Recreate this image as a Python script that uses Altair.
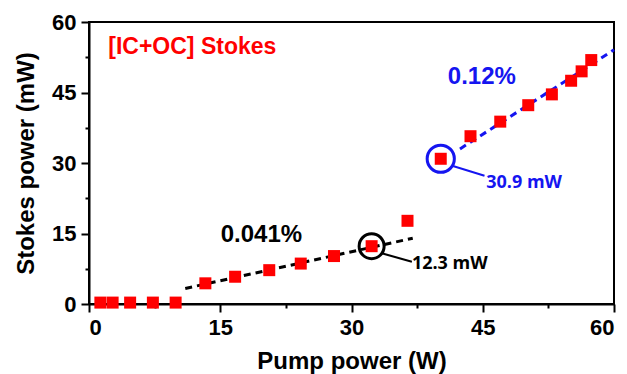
import altair as alt
import pandas as pd

# Data
pump_w = [1.3, 2.7, 4.7, 7.3, 9.9, 13.3, 16.7, 20.6, 24.2, 28.0, 32.3, 36.4,
          40.2, 43.6, 47.0, 50.2, 52.9, 55.1, 56.3, 57.4]
stokes_mw = [0.3, 0.3, 0.3, 0.3, 0.3, 4.4, 5.8, 7.2, 8.6, 10.2, 12.3, 17.7,
             30.9, 35.7, 38.8, 42.3, 44.6, 47.5, 49.5, 51.9]

fit_low_x = [11.0, 37.0]
fit_low_y = [3.3, 14.0]
fit_high_x = [42.4, 60.0]
fit_high_y = [33.0, 54.1]

tick_values = [0, 7.5, 15, 22.5, 30, 37.5, 45, 52.5, 60]

FONT = "Liberation Sans"
BLUE = "#1515f0"
RED = "#ff0000"

xs = alt.Scale(domain=[0, 60], nice=False, zero=False)
ys = alt.Scale(domain=[0, 60], nice=False, zero=False)

pts = pd.DataFrame({"x": pump_w, "y": stokes_mw})

major_test = "datum.value % 15 === 0"
base_axis = dict(values=tick_values, domainWidth=2, domainColor="black", tickWidth=2,
                 tickColor="black",
                 tickSize={"condition": {"test": major_test, "value": 8}, "value": 4},
                 labelExpr="datum.value % 15 === 0 ? datum.label : ''",
                 labelFont=FONT, labelFontSize=22, labelFontWeight="bold",
                 labelColor="black", titleFont=FONT, titleFontSize=24,
                 titleFontWeight="bold", titleColor="black", grid=False)

X_AXIS = alt.Axis(title="Pump power (W)", labelPadding=5, titlePadding=11, **base_axis)
Y_AXIS = alt.Axis(title="Stokes power (mW)", labelPadding=5, titlePadding=13, **base_axis)


def X():
    return alt.X("x:Q", scale=xs, axis=X_AXIS)


def Y():
    return alt.Y("y:Q", scale=ys, axis=Y_AXIS)


points = alt.Chart(pts).mark_square(size=144, color=RED, opacity=1).encode(x=X(), y=Y())


def line(xv, yv, color):
    return alt.Chart(pd.DataFrame({"x": xv, "y": yv})).mark_line(
        color=color, strokeWidth=3, strokeDash=[7, 5]).encode(x=X(), y=Y())


fit1 = line(fit_low_x, fit_low_y, "black")
fit2 = line(fit_high_x, fit_high_y, BLUE)

circ_black = alt.Chart(pd.DataFrame({"x": [32.3], "y": [12.3]})).mark_point(
    shape="circle", filled=False, size=625, strokeWidth=3, color="black", opacity=1).encode(
    x=X(), y=Y())
circ_blue = alt.Chart(pd.DataFrame({"x": [40.2], "y": [30.9]})).mark_point(
    shape="circle", filled=False, size=740, strokeWidth=3, color=BLUE, opacity=1).encode(
    x=X(), y=Y())

lead_black = alt.Chart(pd.DataFrame({"x": [33.45], "y": [10.8], "x2": [36.9], "y2": [9.0]})).mark_rule(
    color="black", strokeWidth=2).encode(x=X(), y=Y(), x2="x2:Q", y2="y2:Q")
lead_blue = alt.Chart(pd.DataFrame({"x": [41.5], "y": [29.4], "x2": [45.2], "y2": [27.3]})).mark_rule(
    color=BLUE, strokeWidth=2).encode(x=X(), y=Y(), x2="x2:Q", y2="y2:Q")


def text(t, x, y, color, size, align, font=FONT):
    return alt.Chart(pd.DataFrame({"x": [x], "y": [y], "t": [t]})).mark_text(
        color=color, fontSize=size, fontWeight="bold", font=font, align=align,
        baseline="middle").encode(x=X(), y=Y(), text="t:N")


t1 = text("[IC+OC] Stokes", 2.2, 54.7, RED, 23, "left")
t2 = text("0.041%", 19.7, 14.7, "black", 24, "center")
t3 = text("0.12%", 44.9, 48.3, BLUE, 24, "center")
t4 = text("12.3 mW", 36.9, 8.6, "black", 18, "left", "Open Sans")
t5 = text("30.9 mW", 45.4, 25.7, BLUE, 18, "left", "Open Sans")

chart = alt.layer(
    fit1, fit2, points, circ_black, circ_blue, lead_black, lead_blue,
    t1, t2, t3, t4, t5
).properties(
    width=525, height=282,
    autosize=alt.AutoSizeParams(type="none"),
    padding={"left": 81, "top": 14, "right": 5, "bottom": 70},
).configure_view(stroke="black", strokeWidth=2)

chart.save("out.html", embed_options={"renderer": "svg", "actions": False})
